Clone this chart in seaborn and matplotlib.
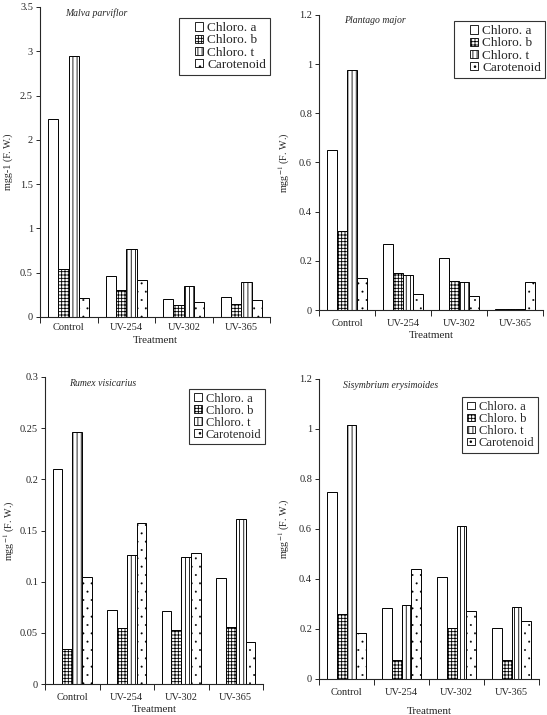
import numpy as np
import pandas as pd
import matplotlib
matplotlib.use("Agg")
import matplotlib.pyplot as plt
from matplotlib.patches import Patch, Rectangle
from matplotlib.legend_handler import HandlerPatch
from matplotlib.ticker import FormatStrFormatter, FixedLocator, MultipleLocator
import seaborn as sns

treatments = ["Control", "UV-254", "UV-302", "UV-365"]
pigments = ["Chloro. a", "Chloro. b", "Chloro. t", "Carotenoid"]

malva_a = [2.24, 0.46, 0.20, 0.23]
malva_b = [0.54, 0.30, 0.13, 0.15]
malva_t = [2.95, 0.77, 0.35, 0.39]
malva_c = [0.21, 0.42, 0.17, 0.19]

plantago_a = [0.65, 0.27, 0.21, 0.003]
plantago_b = [0.322, 0.15, 0.118, 0.003]
plantago_t = [0.975, 0.142, 0.112, 0.006]
plantago_c = [0.132, 0.066, 0.057, 0.112]

rumex_a = [0.210, 0.072, 0.071, 0.104]
rumex_b = [0.034, 0.055, 0.053, 0.056]
rumex_t = [0.246, 0.126, 0.124, 0.161]
rumex_c = [0.105, 0.157, 0.128, 0.041]

sisym_a = [0.75, 0.283, 0.41, 0.206]
sisym_b = [0.262, 0.078, 0.203, 0.078]
sisym_t = [1.017, 0.295, 0.613, 0.287]
sisym_c = [0.185, 0.44, 0.273, 0.232]

# title, series, ymax, ystep, ylabel, rect, legend anchor, legend font, handle length,
# xtick pad, xlabel pad, ylabel pad
panels = [
    ("Malva parviflor", [malva_a, malva_b, malva_t, malva_c], 3.5, 0.5, "mgg-1 (F. W.)",
     [40/547, 1-317/715, 230/547, 310/715], (1.0, 0.965), 9.5, 1.5, 4, 3, 5),
    ("Plantago major", [plantago_a, plantago_b, plantago_t, plantago_c], 1.2, 0.2, r"mgg$^{-1}$ (F. W.)",
     [319/547, 1-310/715, 224/547, 295/715], (1.009, 0.98), 9.5, 1.5, 6.5, 2, 5),
    ("Rumex visicarius", [rumex_a, rumex_b, rumex_t, rumex_c], 0.3, 0.05, r"mgg$^{-1}$ (F. W.)",
     [45/547, 1-684/715, 218/547, 307/715], (1.009, 0.961), 9, 0.7, 6.5, 2, 2),
    ("Sisymbrium erysimoides", [sisym_a, sisym_b, sisym_t, sisym_c], 1.2, 0.2, r"mgg$^{-1}$ (F. W.)",
     [319/547, 1-679/715, 220/547, 300/715], (0.995, 0.94), 9, 0.7, 6.5, 7, 5),
]

hatches = ["", "+++++", "||||", ".."]

sns.set_style("ticks")
plt.rcParams["font.family"] = ["Liberation Serif", "DejaVu Serif"]
plt.rcParams["mathtext.fontset"] = "stix"
plt.rcParams["hatch.linewidth"] = 0.6


def small_square(legend, orig_handle, xdescent, ydescent, width, height, fontsize):
    s = 0.62 * fontsize
    return Rectangle((-xdescent + width - s, -ydescent + (height - s) / 2), s, s)


fig = plt.figure(figsize=(5.47, 7.15), dpi=100)

for (title, series, ymax, ystep, ylabel, rect, legpos, lfs, hlen,
     xpad, xlpad, ylpad) in panels:
    ax = fig.add_axes(rect)
    rows = []
    for p, vals in zip(pigments, series):
        for t, v in zip(treatments, vals):
            rows.append({"Treatment": t, "Pigment": p, "value": v})
    df = pd.DataFrame(rows)
    sns.barplot(data=df, x="Treatment", y="value", hue="Pigment", ax=ax,
                order=treatments, hue_order=pigments,
                palette=["white"] * 4, edgecolor="black", linewidth=0.7,
                width=0.72, gap=0, errorbar=None, legend=False, saturation=1)
    for cont, h in zip(ax.containers, hatches):
        for bar in cont:
            bar.set_hatch(h)
            if h == ".." and hasattr(bar, "set_hatch_linewidth"):
                bar.set_hatch_linewidth(0.2)
    ax.set_xlim(-0.5, 3.5)
    ax.set_ylim(0, ymax)
    ax.yaxis.set_major_locator(MultipleLocator(ystep))
    ax.yaxis.set_major_formatter(FormatStrFormatter("%g"))
    ax.xaxis.set_minor_locator(FixedLocator([-0.5, 0.5, 1.5, 2.5, 3.5]))
    ax.tick_params(axis="x", which="major", length=0, pad=xpad, labelsize=7.5)
    ax.tick_params(axis="x", which="minor", length=4, width=0.7, direction="out")
    ax.tick_params(axis="y", length=3, width=0.7, direction="out", labelsize=7.5, pad=2)
    for s in ["top", "right"]:
        ax.spines[s].set_visible(False)
    for s in ["left", "bottom"]:
        ax.spines[s].set_linewidth(0.8)
    ax.set_xlabel("Treatment", fontsize=8, labelpad=xlpad)
    ax.set_ylabel(ylabel, fontsize=7.3, labelpad=ylpad)
    ax.text(0.11, 0.995, title, transform=ax.transAxes, fontsize=7, style="italic",
            va="top", ha="left")
    handles = [Patch(facecolor="white", edgecolor="black", linewidth=0.6, hatch=h) for h in hatches]
    leg = ax.legend(handles, pigments, loc="upper right", bbox_to_anchor=legpos,
                    fontsize=lfs, frameon=True, fancybox=False, edgecolor="black",
                    handlelength=hlen, handleheight=0.7, handletextpad=0.3,
                    labelspacing=0.0, borderpad=0.3, borderaxespad=0,
                    handler_map={Patch: HandlerPatch(patch_func=small_square)})
    leg.get_frame().set_linewidth(0.8)

fig.savefig("out.png", dpi=100)
